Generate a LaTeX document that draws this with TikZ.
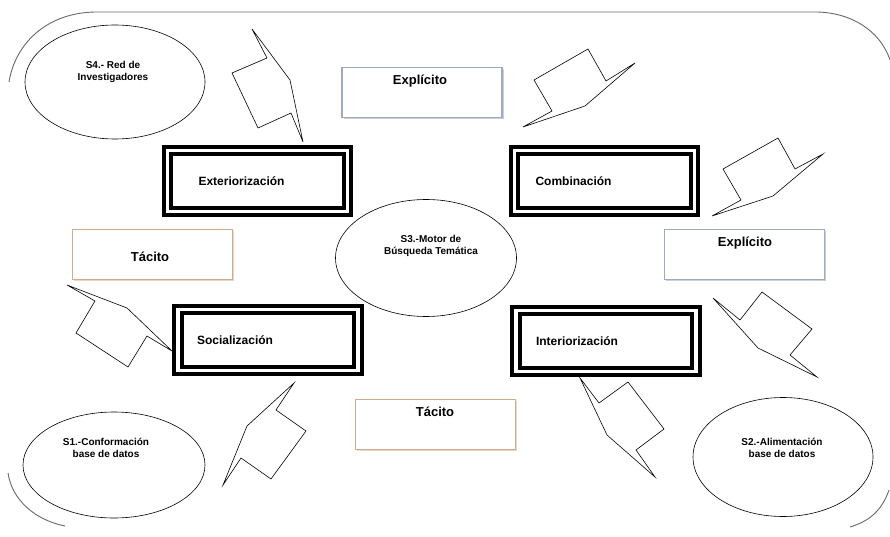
\documentclass[tikz,border=0pt]{standalone}
\usepackage{fontspec}
\setmainfont{Liberation Sans}
\usetikzlibrary{shapes.geometric,shadows}
\definecolor{outl}{RGB}{105,105,105}
\definecolor{blueb}{RGB}{160,170,190}
\definecolor{blues}{RGB}{200,208,222}
\definecolor{tanb}{RGB}{210,170,140}
\definecolor{tans}{RGB}{230,215,200}
\tikzset{
  dbox/.style={draw=black, double=white, double distance=3.5pt, line width=4pt,
    minimum width=180pt, minimum height=61pt, inner xsep=19pt, text width=142pt,
    align=left, font=\fontsize{12}{14}\selectfont\bfseries},
  ell/.style={draw=black, ellipse, line width=0.6pt, inner sep=0pt},
  elltext/.style={align=center, inner sep=0pt, font=\fontsize{10}{12}\selectfont\bfseries},
  lboxe/.style={draw=blueb, line width=1.8pt, fill=white, inner sep=0pt,
    minimum width=160pt, minimum height=50pt,
    drop shadow={shadow xshift=1.5pt, shadow yshift=-1.8pt, fill=blues, opacity=1}},
  lboxt/.style={draw=tanb, line width=1.8pt, fill=white, inner sep=0pt,
    minimum width=160pt, minimum height=50pt,
    drop shadow={shadow xshift=1.5pt, shadow yshift=-1.8pt, fill=tans, opacity=1}},
  ltext/.style={inner sep=0pt, font=\fontsize{13}{15}\selectfont\bfseries},
  flow/.style={draw=black, line width=0.6pt, line join=miter},
  frame/.style={draw=outl, line width=0.9pt}
}
\begin{document}
\begin{tikzpicture}[x=1pt,y=-1pt]
\useasboundingbox (0,0) rectangle (890,537);
\fill[white] (0,0) rectangle (890,537);
% outer frame pieces
\draw[frame] (9,82) .. controls (15,45) and (45,13) .. (95,12) -- (815,12)
  .. controls (850,12) and (880,30) .. (890,60);
\draw[frame] (8,473) .. controls (12,500) and (35,520) .. (65,526);
\draw[frame] (889,490) .. controls (882,510) and (870,521) .. (850,527);
% ellipses
\node[ell, minimum width=180pt, minimum height=114pt] (s4) at (115,82) {};
\node[elltext] (s4t) at (113,72) {S4.- Red de\\Investigadores};
\node[ell, minimum width=181pt, minimum height=117pt] (s3) at (426,258) {};
\node[elltext] (s3t) at (431,246) {S3.-Motor de\\Búsqueda Temática};
\node[ell, minimum width=182pt, minimum height=106pt] (s1) at (114,465) {};
\node[elltext] (s1t) at (106,448) {S1.-Conformación\\base de datos};
\node[ell, minimum width=180pt, minimum height=119pt] (s2) at (783,457) {};
\node[elltext] (s2t) at (782,448) {S2.-Alimentación\\base de datos};
% double boxes
\node[dbox, inner xsep=31pt, text width=118pt] (ext) at (257.5,181) {Exteriorización};
\node[dbox, inner xsep=21pt, text width=138pt] (com) at (604.5,181) {Combinación};
\node[dbox] (soc) at (268,340) {Socialización};
\node[dbox, inner xsep=20pt, text width=140pt] (int) at (606,341) {Interiorización};
% label boxes
\node[lboxe] (ex1) at (422,92.5) {};
\node[ltext] (ex1t) at (420,81) {Explícito};
\node[lboxe] (ex2) at (744.5,254.5) {};
\node[ltext] (ex2t) at (745,243) {Explícito};
\node[lboxt] (ta1) at (152.5,254.5) {};
\node[ltext] (ta1t) at (150,257) {Tácito};
\node[lboxt] (ta2) at (435.5,424.5) {};
\node[ltext] (ta2t) at (435,412) {Tácito};
% bent arrows
\draw[flow] (252,29) -- (267,58) -- (232,73) -- (258,128) -- (291,113) -- (303,142) -- (290,80) -- cycle;
\draw[flow] (534,80) -- (588,49) -- (606,81) -- (635,63) -- (585,106) -- (523,127) -- (552,111) -- cycle;
\draw[flow] (723,169) -- (778,138) -- (795,169) -- (823,154) -- (773,196) -- (712,216) -- (741,200) -- cycle;
\draw[flow] (67,285) -- (95,301) -- (76,333) -- (128,367) -- (147,336) -- (172,351) -- (127,308) -- cycle;
\draw[flow] (713,298) -- (740,320) -- (762,292) -- (812,329) -- (790,355) -- (817,377) -- (758,348) -- cycle;
\draw[flow] (580,378) -- (599,403) -- (628,382) -- (664,429) -- (636,450) -- (655,477) -- (607,435) -- cycle;
\draw[flow] (294,383) -- (276,410) -- (306,431) -- (271,479) -- (241,458) -- (223,485) -- (247,426) -- cycle;
\end{tikzpicture}
\end{document}
